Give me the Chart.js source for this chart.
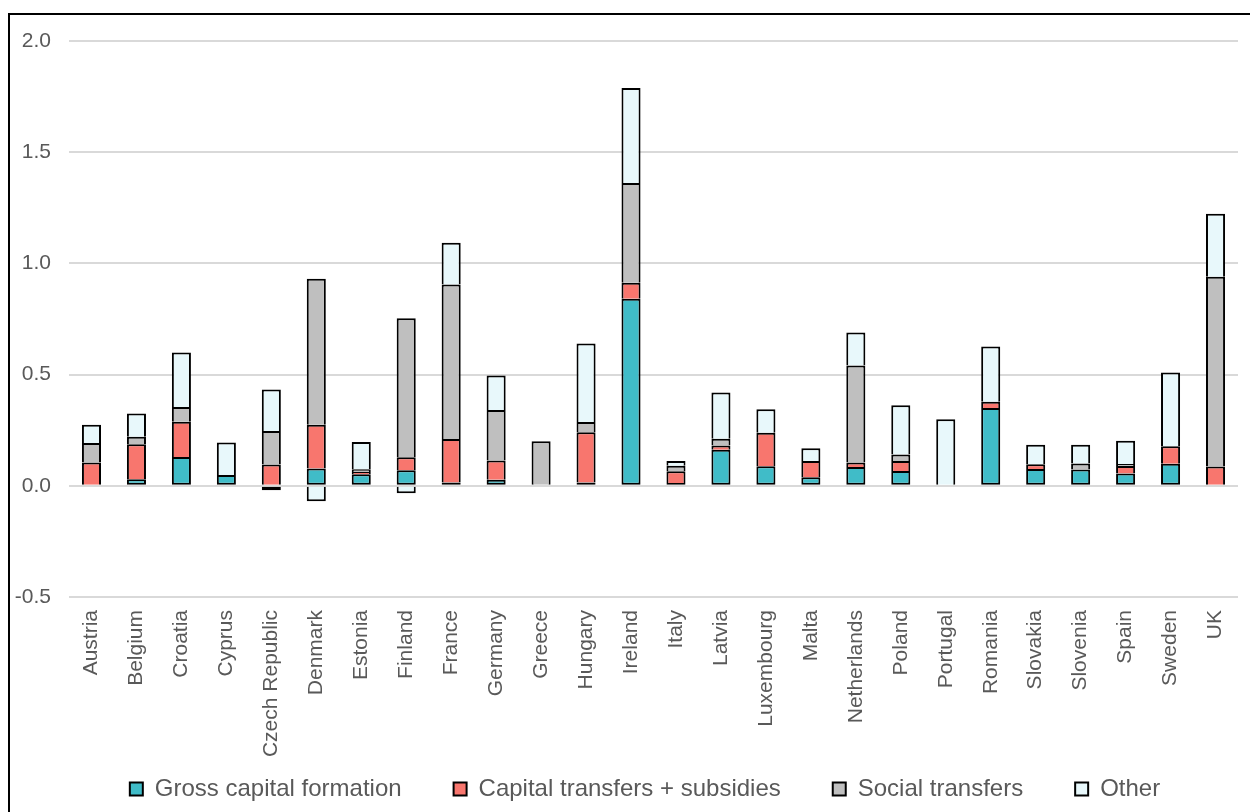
<!DOCTYPE html>
<html>
<head>
<meta charset="utf-8">
<script src="https://cdn.jsdelivr.net/npm/chart.js@4"></script>
<style>
    html, body { margin: 0; padding: 0; background: #fff; overflow: hidden; }
    .frame { position: absolute; left: 8px; top: 13px; width: 1300px; height: 900px; border: 2px solid #000; box-sizing: border-box; }
    .wrap { position: absolute; left: 0; top: 0; width: 1250px; height: 812px; }
</style>
</head>
<body>
<div class="frame"></div>
<div class="wrap"><canvas id="myChart" width="1250" height="812"></canvas></div>
<script>
// values
const countries = ["Austria", "Belgium", "Croatia", "Cyprus", "Czech Republic", "Denmark", "Estonia", "Finland",
    "France", "Germany", "Greece", "Hungary", "Ireland", "Italy", "Latvia", "Luxembourg", "Malta", "Netherlands",
    "Poland", "Portugal", "Romania", "Slovakia", "Slovenia", "Spain", "Sweden", "UK"];

const grossCapital = [0.005, 0.03, 0.129, 0.048, -0.02, 0.078, 0.052, 0.07, 0.015, 0.027, 0, 0.015, 0.841, 0.013,
    0.162, 0.088, 0.039, 0.084, 0.066, 0, 0.35, 0.076, 0.073, 0.055, 0.099, 0];
const capitalTransfers = [0.10, 0.157, 0.159, 0, 0.096, 0.196, 0.01, 0.058, 0.195, 0.087, 0, 0.226, 0.072, 0.052,
    0.019, 0.15, 0.073, 0.021, 0.045, 0, 0.028, 0.021, 0, 0.034, 0.079, 0.087];
const socialTransfers = [0.087, 0.033, 0.066, 0, 0.15, 0.657, 0.012, 0.625, 0.695, 0.227, 0.2, 0.046, 0.449, 0.025,
    0.03, 0, 0, 0.436, 0.03, 0, 0, 0, 0.027, 0.009, 0, 0.853];
const other = [0.082, 0.105, 0.245, 0.147, 0.187, -0.07, 0.123, -0.033, 0.188, 0.155, 0, 0.353, 0.427, 0.022,
    0.209, 0.106, 0.057, 0.148, 0.221, 0.299, 0.248, 0.088, 0.085, 0.105, 0.331, 0.283];

const seriesNames = ["Gross capital formation", "Capital transfers + subsidies", "Social transfers", "Other"];
const seriesColors = ['#40BCC8', '#F8766E', '#BFBFBF', '#E8F8FB'];

const yTicks = [-0.5, 0, 0.5, 1.0, 1.5, 2.0];

const ctx = document.getElementById('myChart');
const textColor = '#595959';
const fontFamily = '"Liberation Sans", Arial, sans-serif';

const allSeries = [grossCapital, capitalTransfers, socialTransfers, other];

// nudge the legend sideways so it sits where the original one does
const legendShift = {
    id: 'legendShift',
    afterLayout(chart) {
        chart.legend.left += 26;
        chart.legend.right += 26;
    }
};

new Chart(ctx, {
    type: 'bar',
    data: {
        labels: countries,
        datasets: allSeries.map((values, i) => ({
            label: seriesNames[i],
            data: values,
            backgroundColor: seriesColors[i],
            borderColor: '#000',
            borderWidth: 2,
            // upper segments skip their base edge so joins are not doubled
            borderSkipped: i === 0 ? false : 'start',
            categoryPercentage: 0.8,
            barPercentage: 0.53
        }))
    },
    options: {
        responsive: false,
        animation: false,
        devicePixelRatio: 1,
        layout: {
            padding: { top: 41, left: 0, right: 12, bottom: 1 }
        },
        scales: {
            x: {
                stacked: true,
                grid: { display: false },
                border: { display: false },
                ticks: {
                    color: textColor,
                    font: { family: fontFamily, size: 21 },
                    minRotation: 90,
                    maxRotation: 90,
                    padding: 5,
                    autoSkip: false
                },
                afterFit: function (scale) {
                    scale.height = 168;
                }
            },
            y: {
                stacked: true,
                min: -0.5,
                max: 2.0,
                afterBuildTicks: function (scale) {
                    scale.ticks = yTicks.map(v => ({ value: v }));
                },
                grid: { color: '#D9D9D9', lineWidth: 2, drawTicks: false },
                border: { display: false },
                ticks: {
                    color: textColor,
                    font: { family: fontFamily, size: 21 },
                    padding: 18,
                    callback: function (value) {
                        return value.toFixed(1);
                    }
                },
                afterFit: function (scale) {
                    scale.width = 69;
                }
            }
        },
        plugins: {
            legend: {
                position: 'bottom',
                labels: {
                    color: textColor,
                    font: { family: fontFamily, size: 24 },
                    boxWidth: 13,
                    boxHeight: 13,
                    padding: 12,
                    generateLabels: function (chart) {
                        const last = chart.data.datasets.length - 1;
                        return chart.data.datasets.map((ds, i) => ({
                            // trailing spaces give the wide gaps between entries
                            text: ds.label + (i < last ? '\u00a0'.repeat(6) : ''),
                            fillStyle: ds.backgroundColor,
                            strokeStyle: '#000',
                            lineWidth: 2,
                            fontColor: textColor,
                            datasetIndex: i
                        }));
                    }
                }
            },
            tooltip: { enabled: false }
        }
    },
    plugins: [legendShift]
});
</script>
</body>
</html>
